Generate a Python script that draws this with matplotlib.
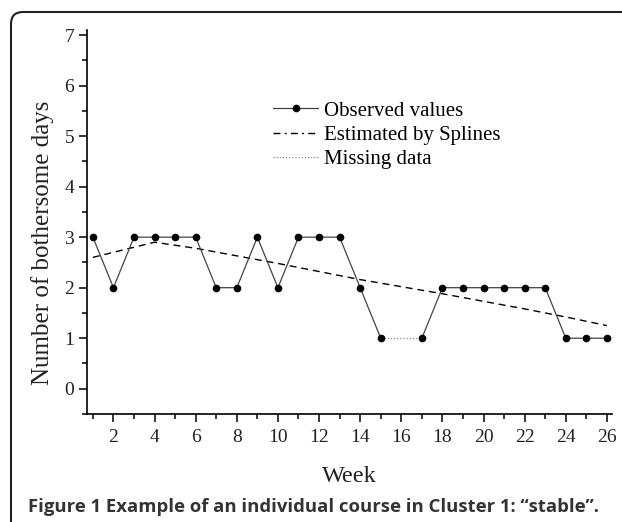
import matplotlib
matplotlib.use("Agg")
import matplotlib.pyplot as plt
from matplotlib.lines import Line2D
from matplotlib.patches import FancyBboxPatch
from matplotlib.transforms import IdentityTransform
from matplotlib.ticker import MultipleLocator

# observed weekly values (week 16 missing)
weeks = [1, 2, 3, 4, 5, 6, 7, 8, 9, 10, 11, 12, 13, 14, 15,
         17, 18, 19, 20, 21, 22, 23, 24, 25, 26]
observed = [3, 2, 3, 3, 3, 3, 2, 2, 3, 2, 3, 3, 3, 2, 1,
            1, 2, 2, 2, 2, 2, 2, 1, 1, 1]
# gap bridged by the dotted line
missing_weeks = [15, 17]
missing_vals = [1, 1]
# spline estimate
spline_weeks = [1, 2, 3, 4, 6, 8, 10, 12, 14, 16, 18, 20, 22, 24, 26]
spline_vals = [2.6, 2.7, 2.8, 2.9, 2.78, 2.63, 2.48, 2.32, 2.16, 2.02,
               1.88, 1.73, 1.58, 1.42, 1.25]

labels = ["Observed values", "Estimated by Splines", "Missing data"]
caption = "Figure 1 Example of an individual course in Cluster 1: \u201cstable\u201d."

SERIF = "Liberation Serif"


def main():
    fig = plt.figure(figsize=(6.22, 5.22), dpi=100)
    ax = fig.add_axes([0.1394, 0.2069, 0.8446, 0.7356])

    # segments of the observed curve, split at the missing week
    ax.plot(weeks[:15], observed[:15], color="#444444", lw=0.9,
            marker="o", ms=4.5, mfc="black", mec="black", zorder=3)
    ax.plot(weeks[15:], observed[15:], color="#444444", lw=0.9,
            marker="o", ms=4.5, mfc="black", mec="black", zorder=3)
    ax.plot(missing_weeks, missing_vals, color="#888888", lw=0.9,
            linestyle=(0, (1, 1.5)), zorder=2)
    ax.plot(spline_weeks, spline_vals, color="black", lw=1.0,
            linestyle=(0, (5, 3.5)), zorder=2)

    ax.set_xlim(0.7, 26.25)
    ax.set_ylim(-0.5, 7.1)
    ax.xaxis.set_major_locator(MultipleLocator(2))
    ax.xaxis.set_minor_locator(MultipleLocator(1))
    ax.yaxis.set_major_locator(MultipleLocator(1))
    ax.yaxis.set_minor_locator(MultipleLocator(0.5))
    ax.set_yticks(range(0, 8))

    for side in ["top", "right"]:
        ax.spines[side].set_visible(False)
    for side in ["left", "bottom"]:
        ax.spines[side].set_linewidth(1.2)

    ax.tick_params(which="major", direction="out", length=6, width=1.1,
                   labelsize=14, pad=3)
    ax.tick_params(axis="x", which="major", pad=5)
    ax.tick_params(which="minor", direction="out", length=3.5, width=1.1)
    for lab in ax.get_xticklabels() + ax.get_yticklabels():
        lab.set_fontfamily(SERIF)
        lab.set_color("#222222")

    ax.set_xlabel("Week", fontfamily=SERIF, fontsize=17.5, color="#222222")
    ax.set_ylabel("Number of bothersome days", fontfamily=SERIF, fontsize=18,
                  color="#222222")
    ax.xaxis.set_label_coords(0.5, -0.135)
    ax.yaxis.set_label_coords(-0.063, 0.445)

    handles = [
        Line2D([], [], color="#444444", lw=0.9, marker="o", ms=4.5,
               mfc="black", mec="black"),
        Line2D([], [], color="black", lw=1.0, linestyle=(0, (5, 3, 1.5, 3))),
        Line2D([], [], color="#888888", lw=0.9, linestyle=(0, (1, 1.5))),
    ]
    ax.legend(handles, labels, loc="upper left", bbox_to_anchor=(0.355, 0.815),
              frameon=False, numpoints=1, handlelength=2.15, handletextpad=0.3,
              labelspacing=0.22, borderpad=0, borderaxespad=0,
              prop={"family": SERIF, "size": 15})

    # rounded frame around the figure panel
    frame = FancyBboxPatch((11, -20), 640, 522 - 12 + 20,
                           boxstyle="round,pad=0,rounding_size=12",
                           transform=IdentityTransform(), fill=False,
                           edgecolor="#222222", lw=1.5)
    fig.add_artist(frame)

    fig.text(28 / 622, 1 - 507 / 522, caption, ha="left", va="center",
             fontfamily="Open Sans", fontweight="bold", fontsize=13.3,
             color="#333333")

    fig.savefig("out.png", dpi=100)


if __name__ == "__main__":
    main()
